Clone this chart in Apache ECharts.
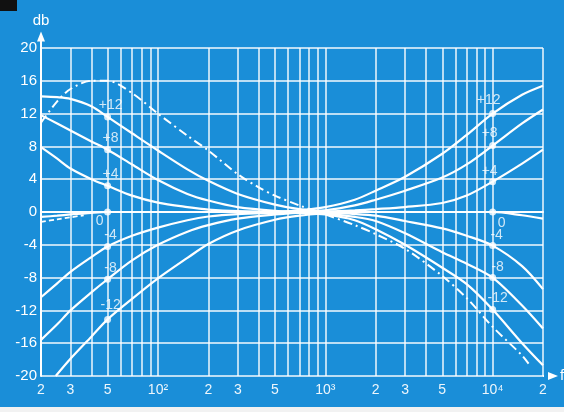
<!DOCTYPE html>
<html>
<head>
<meta charset="utf-8">
<script src="https://cdn.jsdelivr.net/npm/echarts@6/dist/echarts.min.js"></script>
<style>
  html, body { margin: 0; padding: 0; background: #1a8ed8; }
  #chart { width: 564px; height: 412px; }
</style>
</head>
<body>
<div id="chart"></div>
<script>
// tone control curves
var curveNames = ['+12', '+8', '+4', '0', '-4', '-8', '-12'];

var bassFreq = [20, 25, 30, 40, 50, 70, 100, 150, 200, 300, 500, 700, 1000];
var bassP12 = [14.1, 14.0, 13.8, 12.9, 11.6, 9.6, 7.5, 5.2, 3.8, 2.2, 0.9, 0.35, 0.08];
var bassP8 = [11.8, 10.8, 9.95, 8.6, 7.6, 5.8, 3.9, 2.2, 1.4, 0.6, 0.15, 0.05, 0];
var bassP4 = [7.9, 6.5, 5.3, 4.0, 3.2, 2.0, 1.15, 0.6, 0.3, 0.1, 0.05, 0, 0];
var bass0 = [-0.6, -0.45, -0.3, -0.1, 0, 0, 0, 0, 0, 0, 0, 0, 0];
var bassM4 = [-10.4, -8.7, -7.3, -5.5, -4.2, -2.9, -1.9, -1.0, -0.55, -0.25, -0.1, 0, 0];
var bassM8 = [-15.6, -13.7, -12.0, -9.8, -8.2, -5.9, -4.0, -2.4, -1.6, -0.8, -0.3, -0.1, 0];
var bassM12Freq = [24.5, 30, 40, 50, 70, 100, 150, 200, 300, 500, 700, 1000];
var bassM12 = [-20, -17.9, -15.2, -13.1, -10.6, -8.1, -5.6, -3.9, -2.25, -0.95, -0.45, -0.15];

var trebleFreq = [500, 700, 1000, 1500, 2000, 3000, 5000, 7000, 10000, 15000, 20000];
var trebP12 = [0, 0.2, 0.6, 1.5, 2.6, 4.3, 7.1, 9.4, 12.0, 14.3, 15.4];
var trebP8 = [0, 0.05, 0.2, 0.8, 1.5, 2.6, 4.2, 5.8, 8.1, 10.8, 12.5];
var trebP4 = [0, 0, 0.05, 0.2, 0.35, 0.6, 1.1, 2.0, 3.7, 5.9, 7.6];
var treb0 = [0, 0, 0, 0, 0, 0, 0, 0, 0, -0.4, -0.8];
var trebM4 = [0, 0, -0.1, -0.25, -0.45, -1.1, -2.0, -2.9, -4.1, -6.6, -9.4];
var trebM8 = [0, -0.05, -0.2, -0.6, -1.1, -2.6, -4.9, -6.3, -8.0, -11.4, -14.2];
var trebM12 = [0, -0.1, -0.3, -1.0, -2.1, -4.0, -6.8, -8.8, -11.9, -16.0, -18.7];

// N=10W curve (dash-dot) and the short dashed one
var ddFreq = [20, 25, 30, 40, 50, 70, 100, 150, 200, 300, 400, 500, 700, 1000, 1500, 2000, 3000, 5000, 7000, 10000, 15000, 16400];
var ddVals = [10.9, 13.5, 15.0, 16.0, 16.0, 14.5, 12.0, 9.3, 7.5, 4.6, 3.0, 2.0, 0.8, -0.3, -1.6, -2.7, -4.5, -7.8, -10.5, -14.0, -17.5, -18.5];
var nFreq = [20, 25, 30, 36];
var nVals = [-1.2, -0.9, -0.65, -0.4];

var tickFreqs = [20, 30, 50, 100, 200, 300, 500, 1000, 2000, 3000, 5000, 10000, 20000];
var tickLabels = ['2', '3', '5', '10²', '2', '3', '5', '10³', '2', '3', '5', '10⁴', '2'];
var gridFreqs = [20, 30, 40, 50, 60, 70, 80, 90, 100, 200, 300, 400, 500, 600, 700, 800, 900,
  1000, 2000, 3000, 4000, 5000, 6000, 7000, 8000, 9000, 10000, 20000];

var bassDotFreq = 50;
var trebleDotFreq = 10000;

var WHITE = '#ffffff';
var FONT = 'Liberation Sans';

function pairs(fs, vs) {
  return fs.map(function (f, i) { return [f, vs[i]]; });
}

var bassCurves = [
  [bassFreq, bassP12], [bassFreq, bassP8], [bassFreq, bassP4], [bassFreq, bass0],
  [bassFreq, bassM4], [bassFreq, bassM8], [bassM12Freq, bassM12]
];
var trebleCurves = [trebP12, trebP8, trebP4, treb0, trebM4, trebM8, trebM12];

var series = [];

// vertical grid lines + frequency labels
series.push({
  type: 'line',
  data: [],
  silent: true,
  markLine: {
    silent: true,
    symbol: ['none', 'none'],
    animation: false,
    lineStyle: { color: WHITE, width: 1.5, type: 'solid', opacity: 0.92 },
    data: gridFreqs.map(function (f) {
      var k = tickFreqs.indexOf(f);
      return {
        xAxis: f,
        label: k < 0 ? { show: false } : {
          show: true, position: 'start', distance: 7, formatter: tickLabels[k],
          color: WHITE, fontSize: 14, fontFamily: FONT
        }
      };
    })
  }
});

bassCurves.forEach(function (c, i) {
  series.push({
    name: 'bass ' + curveNames[i], type: 'line', data: pairs(c[0], c[1]),
    smooth: 0.3, showSymbol: false,
    lineStyle: { color: WHITE, width: 2.2 }
  });
});
trebleCurves.forEach(function (v, i) {
  series.push({
    name: 'treble ' + curveNames[i], type: 'line', data: pairs(trebleFreq, v),
    smooth: 0.3, showSymbol: false,
    lineStyle: { color: WHITE, width: 2.2 }
  });
});

series.push({
  name: 'N=10W', type: 'line', data: pairs(ddFreq, ddVals),
  smooth: 0.3, showSymbol: false,
  lineStyle: { color: WHITE, width: 2, type: [9, 4, 2, 4] }
});
series.push({
  name: 'N=10W short', type: 'line',
  data: pairs(nFreq, nVals).map(function (p, i) {
    return i === 0 ? {
      value: p,
      label: { show: true, formatter: 'N=10W', position: 'inside', offset: [25, 10],
        color: WHITE, fontSize: 13, fontFamily: FONT }
    } : p;
  }),
  smooth: 0.3, showSymbol: false, clip: false,
  lineStyle: { color: WHITE, width: 1.8, type: [5, 3] }
});

// dots and labels on the curves
var bassOffsets = [[3, -12], [3, -12], [3, -12], [-8, 9], [3, -11], [3, -11], [3, -14]];
var trebleOffsets = [[-4, -13], [-3, -12], [-3, -11], [9, 11], [4, -10], [5, -10], [5, -11]];
var dots = [];
bassCurves.forEach(function (c, i) {
  var k = c[0].indexOf(bassDotFreq);
  dots.push({
    value: [bassDotFreq, c[1][k]],
    label: { show: true, formatter: curveNames[i], offset: bassOffsets[i] }
  });
});
trebleCurves.forEach(function (v, i) {
  var k = trebleFreq.indexOf(trebleDotFreq);
  dots.push({
    value: [trebleDotFreq, v[k]],
    label: { show: true, formatter: curveNames[i], offset: trebleOffsets[i] }
  });
});
series.push({
  type: 'scatter', data: dots, symbolSize: 7, z: 5,
  itemStyle: { color: WHITE },
  label: { position: 'inside', color: WHITE, fontSize: 14, fontFamily: FONT }
});

// arrow extensions of the axes
series.push({
  type: 'line', clip: false, silent: true,
  data: [[20, 20], { value: [20, 21.4], symbol: 'triangle', symbolSize: [8, 10],
    label: { show: true, formatter: 'db', position: 'top', distance: 3,
      color: WHITE, fontSize: 15, fontFamily: FONT } }],
  symbol: 'none', showSymbol: true,
  lineStyle: { color: WHITE, width: 2 }, itemStyle: { color: WHITE }
});
series.push({
  type: 'line', clip: false, silent: true,
  data: [[20000, -20], { value: [22960, -20], symbol: 'triangle', symbolSize: [8, 10], symbolRotate: -90,
    label: { show: true, formatter: 'f', position: 'right', distance: 2,
      color: WHITE, fontSize: 15, fontFamily: FONT } }],
  symbol: 'none', showSymbol: true,
  lineStyle: { color: WHITE, width: 2 }, itemStyle: { color: WHITE }
});

var myChart = echarts.init(document.getElementById('chart'));
myChart.setOption({
  backgroundColor: '#1a8ed8',
  animation: false,
  grid: { left: 41, right: 21, top: 48, bottom: 36 },
  xAxis: {
    type: 'log', logBase: 10, min: 20, max: 20000,
    axisLine: { show: true, lineStyle: { color: WHITE, width: 2 } },
    axisTick: { show: false },
    axisLabel: { show: false },
    splitLine: { show: false },
    minorSplitLine: { show: false }
  },
  yAxis: {
    type: 'value', min: -20, max: 20, interval: 4,
    axisLine: { show: true, lineStyle: { color: WHITE, width: 2 } },
    axisTick: { show: false },
    axisLabel: { color: WHITE, fontSize: 15, fontFamily: FONT, margin: 4 },
    splitLine: { show: true, lineStyle: { color: WHITE, width: 1.6, opacity: 0.95 } }
  },
  graphic: [
    { type: 'rect', left: 0, top: 0, shape: { width: 17, height: 11 }, style: { fill: '#111' } },
    { type: 'rect', left: 0, bottom: 0, shape: { width: 564, height: 5 }, style: { fill: '#f2f2f2' } }
  ],
  series: series
});
</script>
</body>
</html>
